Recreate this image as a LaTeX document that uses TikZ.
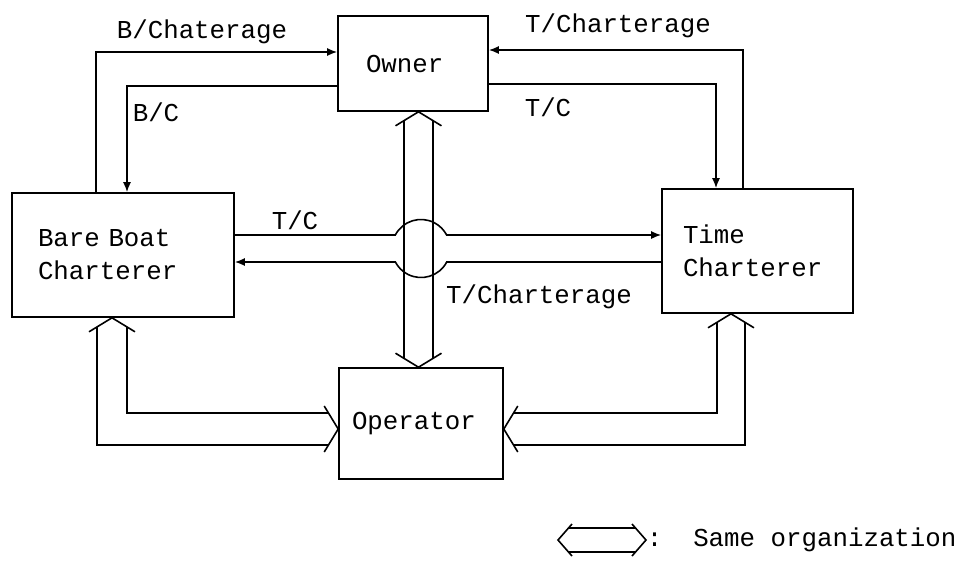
\documentclass[tikz,border=0pt]{standalone}
\usepackage{fontspec}
\setmainfont{Liberation Mono}
\usetikzlibrary{arrows.meta,calc}

\begin{document}
\begin{tikzpicture}[x=0.5pt, y=-0.5pt, line width=0.8pt,
    font=\fontsize{12.9}{16.5}\selectfont,
    box/.style={draw, align=left, inner ysep=0pt},
    flow/.style={-{Latex[length=5pt,width=4pt]}}]
  \useasboundingbox (0,0) rectangle (973,585);
  % the four parties
  \node[box, text width=47pt, inner xsep=14pt, minimum height=47.5pt] (owner) at (413,63.5) {Owner};
  \node[box, text width=85pt, inner xsep=13pt, minimum height=62pt] (bb) at (123,255) {Bare Boat\\Charterer};
  \node[box, text width=74.5pt, inner xsep=10.5pt, minimum height=62pt] (tc) at (757.5,251) {Time\\Charterer};
  \node[box, text width=69pt, inner xsep=6.5pt, minimum height=55.5pt] (op) at (421,423.5) {Operator};

  % owner <-> charterers
  \draw[flow] (96,0 |- bb.north) |- (owner.west |- 0,52);
  \draw[flow] (owner.west |- 0,86) -| (127,0 |- bb.north);
  \draw[flow] (743,0 |- tc.north) |- (owner.east |- 0,50);
  \draw[flow] (owner.east |- 0,84) -| (716,0 |- tc.north);
  \node (lbch) at (202,32) {B/Chaterage};
  \node (lbc) at (156,112) {B/C};
  \node (ltch) at (618,26) {T/Charterage};
  \node (ltc) at (548,107) {T/C};

  % bare boat <-> time charterer, hopping over
  \draw[flow] (bb.east |- 0,235) -- (395.3,235) arc[start angle=207.7, end angle=332.3, radius=29] -- (tc.west |- 0,235);
  \draw[flow] (tc.west |- 0,262) -- (446.7,262) arc[start angle=27.7, end angle=152.3, radius=29] -- (bb.east |- 0,262);
  \node (mtc) at (295,220) {T/C};
  \node (mtch) at (539,297) {T/Charterage};

  % same organization: owner - operator
  \coordinate (vt) at (418.5,0 |- owner.south);
  \coordinate (vb) at (418.5,0 |- op.north);
  \draw (vt) ++(-23,14) -- (vt) -- ++(23,14);
  \draw ($(vt)+(-14.5,9)$) -- ($(vb)+(-14.5,-9)$);
  \draw ($(vt)+(14.5,9)$) -- ($(vb)+(14.5,-9)$);
  \draw (vb) ++(-23,-14) -- (vb) -- ++(23,-14);

  % same organization: bare boat charterer - operator
  \coordinate (l1) at (112,0 |- bb.south);
  \coordinate (l2) at (op.west |- 0,429);
  \draw (l1) ++(-23,14) -- (l1) -- ++(23,14);
  \draw ($(l1)+(-15,9)$) |- ($(l2)+(-10,16)$);
  \draw ($(l1)+(15,9)$) |- ($(l2)+(-10,-16)$);
  \draw (l2) ++(-14,-23) -- (l2) -- ++(-14,23);

  % same organization: time charterer - operator
  \coordinate (r1) at (731,0 |- tc.south);
  \coordinate (r2) at (op.east |- 0,429);
  \draw (r1) ++(-23,14) -- (r1) -- ++(23,14);
  \draw ($(r1)+(-14,9)$) |- ($(r2)+(10,-16)$);
  \draw ($(r1)+(14,9)$) |- ($(r2)+(10,16)$);
  \draw (r2) ++(14,-23) -- (r2) -- ++(14,23);

  % legend
  \node[anchor=west, inner sep=0pt] (key) at (646,540) {:~~Same organization};
  \coordinate (kr) at (key.west);
  \coordinate (kl) at ($(kr)+(-88,0)$);
  \draw (kr) ++(-14,-16) -- (kr) -- ++(-14,16);
  \draw (kl) ++(14,-16) -- (kl) -- ++(14,16);
  \draw ($(kl)+(10,-12)$) -- ($(kr)+(-10,-12)$);
  \draw ($(kl)+(10,12)$) -- ($(kr)+(-10,12)$);
\end{tikzpicture}
\end{document}
